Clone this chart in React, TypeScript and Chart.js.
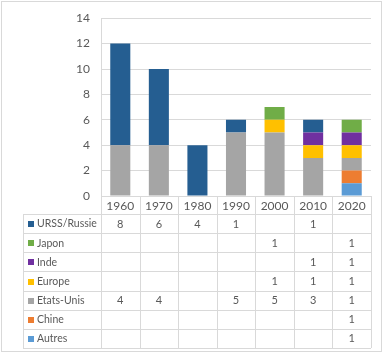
import React, { useEffect, useRef } from "react";
import { Chart, registerables } from "chart.js";

Chart.register(...registerables);

const categories = ["1960", "1970", "1980", "1990", "2000", "2010", "2020"];
const yTicks = [0, 2, 4, 6, 8, 10, 12, 14];

const autres = [null, null, null, null, null, null, 1];
const chine = [null, null, null, null, null, null, 1];
const etatsUnis = [4, 4, null, 5, 5, 3, 1];
const europe = [null, null, null, null, 1, 1, 1];
const inde = [null, null, null, null, null, 1, 1];
const japon = [null, null, null, null, 1, null, 1];
const urss = [8, 6, 4, 1, null, 1, null];

// stacking order bottom -> top
const seriesNames = ["Autres", "Chine", "Etats-Unis", "Europe", "Inde", "Japon", "URSS/Russie"];
const seriesValues = [autres, chine, etatsUnis, europe, inde, japon, urss];
const seriesColors = ["#5B9BD5", "#ED7D31", "#A5A5A5", "#FFC000", "#7030A0", "#70AD47", "#255E91"];

const FONT = "Lato, 'Liberation Sans', sans-serif";
const TEXT = "#595959";
const LINE = "#d9d9d9";

const tablePlugin = {
  id: "dataTable",
  afterDraw(chart: any) {
    const ctx = chart.ctx as CanvasRenderingContext2D;
    const area = chart.chartArea;
    const x = chart.scales.x;
    const n = categories.length;
    const catW = (area.right - area.left) / n;
    const headerTop = area.bottom;
    const headerBottom = area.bottom + 18;
    const tableBottom = 348;
    const rows = seriesNames.length;
    const rowH = (tableBottom - headerBottom) / rows;
    const labelLeft = 23;

    ctx.save();
    // outer frame
    ctx.strokeStyle = LINE;
    ctx.lineWidth = 1;
    ctx.strokeRect(1.5, 1.5, 380, 350);

    ctx.strokeStyle = LINE;
    ctx.beginPath();
    for (let i = 0; i <= n; i++) {
      const px = Math.round(area.left + i * catW) + 0.5;
      ctx.moveTo(px, headerTop);
      ctx.lineTo(px, tableBottom);
    }
    ctx.moveTo(labelLeft + 0.5, headerBottom);
    ctx.lineTo(labelLeft + 0.5, tableBottom);
    for (let r = 0; r <= rows; r++) {
      const py = Math.round(headerBottom + r * rowH) + 0.5;
      ctx.moveTo(labelLeft, py);
      ctx.lineTo(area.right, py);
    }
    ctx.stroke();

    ctx.font = `12px ${FONT}`;
    ctx.fillStyle = TEXT;
    ctx.textAlign = "center";
    ctx.textBaseline = "middle";
    categories.forEach((c, i) => {
      const cx = x.getPixelForValue(i);
      ctx.fillText(c, cx, (headerTop + headerBottom) / 2 + 1);
    });

    // rows: top to bottom reversed order
    for (let r = 0; r < rows; r++) {
      const si = rows - 1 - r;
      const cy = headerBottom + r * rowH + rowH / 2 + 0.5;
      ctx.fillStyle = seriesColors[si];
      ctx.fillRect(28, Math.round(cy) - 3, 6, 6);
      ctx.fillStyle = TEXT;
      ctx.textAlign = "left";
      ctx.font = `10.5px ${FONT}`;
      ctx.fillText(seriesNames[si], 37, cy);
      ctx.textAlign = "center";
      ctx.font = `11px ${FONT}`;
      seriesValues[si].forEach((v, i) => {
        if (v !== null && v !== undefined) {
          ctx.fillText(String(v), x.getPixelForValue(i), cy);
        }
      });
    }
    ctx.restore();
  },
};

export default function App() {
  const ref = useRef<HTMLCanvasElement>(null);
  useEffect(() => {
    document.body.style.margin = "0";
    const chart = new Chart(ref.current!, {
      type: "bar",
      data: {
        labels: categories,
        datasets: seriesNames.map((name, i) => ({
          label: name,
          data: seriesValues[i] as any,
          backgroundColor: seriesColors[i],
          borderWidth: 0,
          categoryPercentage: 1,
          barPercentage: 0.52,
        })),
      },
      options: {
        animation: false,
        responsive: false,
        maintainAspectRatio: false,
        layout: { padding: { left: 51, right: 15, top: 14, bottom: 160 } },
        plugins: { legend: { display: false }, tooltip: { enabled: false } },
        scales: {
          x: {
            stacked: true,
            grid: { display: false },
            border: { display: true, color: LINE },
            ticks: { display: false },
            afterFit: (s: any) => {
              s.height = 0;
            },
          },
          y: {
            stacked: true,
            min: 0,
            max: 14,
            afterBuildTicks: (s: any) => {
              s.ticks = yTicks.map((v) => ({ value: v }));
            },
            grid: { color: LINE, drawTicks: false },
            border: { display: true, color: LINE },
            ticks: {
              padding: 11,
              color: TEXT,
              font: { family: FONT, size: 12 },
            },
            afterFit: (s: any) => {
              s.width = 50;
            },
          },
        },
      },
      plugins: [tablePlugin],
    });
    return () => chart.destroy();
  }, []);
  return <canvas ref={ref} width={386} height={356} style={{ display: "block" }} />;
}
